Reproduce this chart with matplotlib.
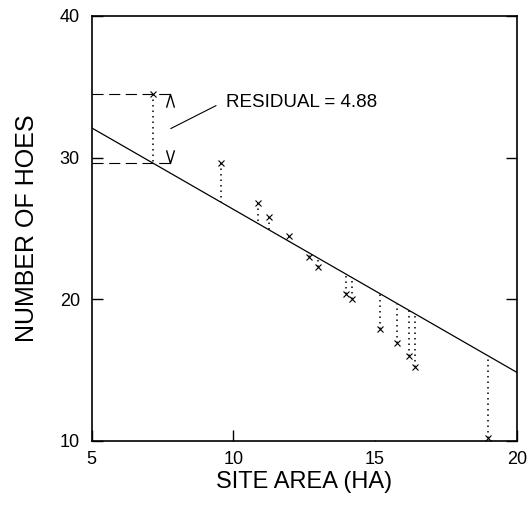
import matplotlib.pyplot as plt
from matplotlib.path import Path

plt.rcParams['font.family'] = ['Liberation Sans', 'DejaVu Sans']

# Data
site_area = [7.17, 9.56, 10.88, 11.27, 11.98, 12.68, 12.97, 13.97, 14.18, 15.18, 15.79, 16.20, 16.41, 18.97]
hoes = [34.5, 29.6, 26.8, 25.8, 24.5, 23.0, 22.3, 20.4, 20.0, 17.9, 16.9, 16.0, 15.2, 10.2]

# Regression line
intercept = 37.85
slope = -1.15
line_x = [5, 20]

residual_label = 'RESIDUAL = 4.88'
x_ticks = [5, 10, 15, 20]
y_ticks = [10, 20, 30, 40]


def fit(x):
    return intercept + slope * x


fig = plt.figure(figsize=(5.27, 5.09), dpi=100)
ax = fig.add_axes([0.174, 0.1336, 0.8065, 0.835])

# regression line
ax.plot(line_x, [fit(x) for x in line_x], color='black', lw=0.9)

# residuals (dotted) and points
for x, y in zip(site_area, hoes):
    ax.plot([x, x], [y, fit(x)], color='black', lw=1.1, linestyle=(0, (1, 2.6)))
ax.plot(site_area, hoes, 'x', color='black', markersize=5, mew=0.8)

# highlighted residual of first point
x0, y0 = site_area[0], hoes[0]
yf = fit(x0)
dash_end = x0 + 0.76
ax.plot([5, dash_end], [y0, y0], color='black', lw=0.8, linestyle=(0, (10, 5)))
ax.plot([5, dash_end], [yf, yf], color='black', lw=0.8, linestyle=(0, (10, 5)))

up = Path([(-0.3, -1), (0, 0), (0.3, -1)], [Path.MOVETO, Path.LINETO, Path.LINETO])
down = Path([(-0.3, 1), (0, 0), (0.3, 1)], [Path.MOVETO, Path.LINETO, Path.LINETO])
chev_x = x0 + 0.6
ax.plot([chev_x], [y0], marker=up, markersize=19, color='black', mew=1.0, fillstyle='none')
ax.plot([chev_x], [yf], marker=down, markersize=19, color='black', mew=1.0, fillstyle='none')

ax.annotate(residual_label, xy=(chev_x + 0.02, (y0 + yf) / 2),
            xytext=(9.75, 33.86), ha='left', va='center', fontsize=13.5,
            arrowprops=dict(arrowstyle='-', color='black', lw=0.8,
                            shrinkA=6, shrinkB=0, relpos=(0, 0.65)))

ax.set_xlim(5, 20)
ax.set_ylim(10, 40)
ax.set_xticks(x_ticks)
ax.set_yticks(y_ticks)
ax.tick_params(direction='in', length=8, width=1, labelsize=13)
ax.tick_params(axis='y', right=True, pad=8.5)
ax.tick_params(axis='x', pad=7.5)
ax.xaxis.get_major_ticks()[2].tick1line.set_markersize(1)

for s in ax.spines.values():
    s.set_linewidth(1.2)

ax.set_xlabel('SITE AREA (HA)', fontsize=17, labelpad=2)
ax.set_ylabel('NUMBER OF HOES', fontsize=18, labelpad=15)

plt.savefig('out.png', dpi=100)
